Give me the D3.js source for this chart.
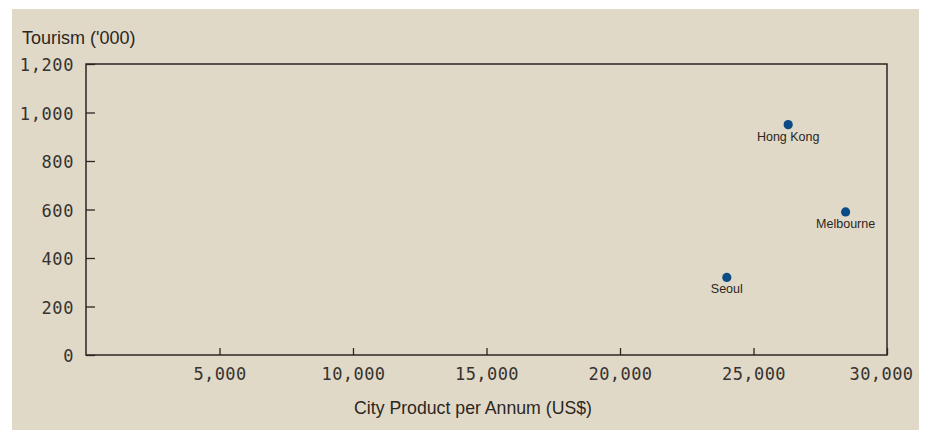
<!DOCTYPE html>
<html>
<head>
<meta charset="utf-8">
<script src="https://cdn.jsdelivr.net/npm/d3@7"></script>
<style>
  html, body { margin: 0; padding: 0; background: #ffffff; }
  svg { display: block; }
</style>
</head>
<body>
<svg id="chart" width="930" height="430"></svg>
<script>
// City product vs. tourism
const cities = ["Seoul", "Hong Kong", "Melbourne"];
const cityProduct = [24000, 26300, 28450];   // US$ per annum
const tourism = [320, 950, 590];             // visitors ('000)
const xTicks = [5000, 10000, 15000, 20000, 25000, 30000];
const yTicks = [0, 200, 400, 600, 800, 1000, 1200];

const svg = d3.select("#chart");
const W = 930, H = 430;
const plot = { left: 86, right: 887, top: 64, bottom: 355 };

const ink = "#2b2622";
const tickInk = "#363230";
const panel = "#e1d9c7";
const dotColor = "#0b4c84";
const tickFont = "'DejaVu Sans Mono', monospace";
const textFont = "'Liberation Sans', Arial, sans-serif";

// panel background
svg.append("rect")
  .attr("x", 12).attr("y", 9)
  .attr("width", 907).attr("height", H - 9)
  .attr("fill", panel);

const x = d3.scaleLinear().domain([0, 30000]).range([plot.left, plot.right]);
const y = d3.scaleLinear().domain([0, 1200]).range([plot.bottom, plot.top]);

const fmt = d3.format(",");

// plot frame
svg.append("rect")
  .attr("x", plot.left).attr("y", plot.top)
  .attr("width", plot.right - plot.left)
  .attr("height", plot.bottom - plot.top)
  .attr("fill", "none")
  .attr("stroke", ink)
  .attr("stroke-width", 1.5);

// x axis: inward ticks, labels below
const xAxis = svg.append("g")
  .attr("transform", `translate(0,${plot.bottom})`)
  .call(d3.axisBottom(x).tickValues(xTicks).tickFormat(fmt).tickSizeInner(-7).tickSizeOuter(0).tickPadding(13));
xAxis.select(".domain").remove();
xAxis.selectAll(".tick line").attr("stroke", ink).attr("stroke-width", 1.3);
xAxis.selectAll(".tick text")
  .attr("fill", tickInk)
  .style("font-family", tickFont)
  .style("font-size", "17px")
  .style("letter-spacing", "0.4px");
// keep the last label inside the panel edge
xAxis.selectAll(".tick text").filter(d => d === xTicks[xTicks.length - 1]).attr("dx", -6);

// y axis: inward ticks, labels at left
const yAxis = svg.append("g")
  .attr("transform", `translate(${plot.left},0)`)
  .call(d3.axisLeft(y).tickValues(yTicks).tickFormat(fmt).tickSizeInner(-9).tickSizeOuter(0).tickPadding(12));
yAxis.select(".domain").remove();
yAxis.selectAll(".tick line").attr("stroke", ink).attr("stroke-width", 1.3);
yAxis.selectAll(".tick text")
  .attr("fill", tickInk)
  .attr("dy", "0.4em")
  .style("font-family", tickFont)
  .style("font-size", "17px")
  .style("letter-spacing", "0.6px");

// axis titles
svg.append("text")
  .attr("x", 22).attr("y", 44)
  .attr("fill", ink)
  .style("font-family", textFont)
  .style("font-size", "18px")
  .text("Tourism ('000)");

svg.append("text")
  .attr("x", 473).attr("y", 414)
  .attr("text-anchor", "middle")
  .attr("fill", ink)
  .style("font-family", textFont)
  .style("font-size", "17.7px")
  .text("City Product per Annum (US$)");

// points with labels
const data = cities.map((c, i) => ({ city: c, gdp: cityProduct[i], visitors: tourism[i] }));

const pts = svg.append("g").selectAll("g")
  .data(data)
  .join("g")
  .attr("transform", d => `translate(${x(d.gdp)},${y(d.visitors)})`);

pts.append("circle")
  .attr("r", 4.6)
  .attr("fill", dotColor);

pts.append("text")
  .attr("y", 16)
  .attr("text-anchor", "middle")
  .attr("fill", ink)
  .style("font-family", textFont)
  .style("font-size", "12.5px")
  .text(d => d.city);
</script>
</body>
</html>
